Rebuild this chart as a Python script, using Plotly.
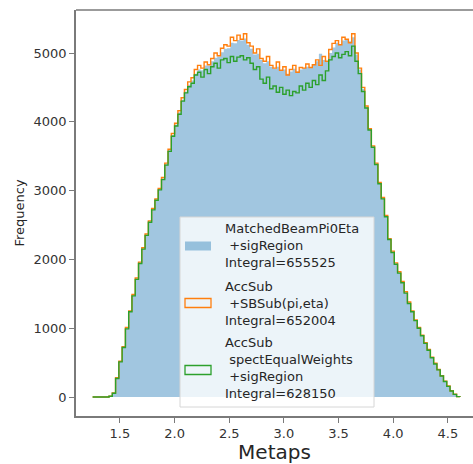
import plotly.graph_objects as go

# ---- data ----
bin_start = 1.25
bin_width = 0.03

blue_counts = [0, 0, 0, 0, 0, 10, 60, 275, 515, 725,
               1000, 1245, 1480, 1720, 1950, 2160, 2360, 2550, 2730, 2870,
               3020, 3180, 3390, 3590, 3810, 3960, 4140, 4320, 4440, 4540,
               4600, 4700, 4760, 4750, 4820, 4820, 4880, 4930, 4950, 5010,
               5060, 5070, 5150, 5140, 5190, 5180, 5210, 5120, 5060, 4980,
               4990, 4900, 4850, 4880, 4800, 4770, 4800, 4740, 4760, 4700,
               4730, 4770, 4730, 4760, 4780, 4800, 4790, 4830, 4880, 4990,
               4900, 4880, 5000, 5080, 5150, 5120, 5180, 5200, 5170, 5230,
               4980, 4760, 4480, 4220, 3890, 3640, 3390, 3110, 2890, 2630,
               2300, 2110, 1940, 1810, 1670, 1520, 1370, 1245, 1115, 1005,
               895, 785, 685, 575, 485, 398, 308, 228, 158, 89,
               39, 5]

orange_counts = [0, 0, 0, 0, 0, 10, 60, 280, 520, 730,
                 1010, 1250, 1490, 1730, 1960, 2170, 2370, 2560, 2740, 2880,
                 3030, 3190, 3400, 3600, 3830, 3980, 4160, 4350, 4470, 4580,
                 4640, 4760, 4820, 4780, 4870, 4830, 4920, 5000, 4960, 5070,
                 5120, 5100, 5230, 5180, 5260, 5200, 5280, 5150, 5100, 5000,
                 5060, 4920, 4880, 4950, 4820, 4780, 4870, 4750, 4800, 4680,
                 4760, 4820, 4720, 4790, 4780, 4840, 4790, 4830, 4900, 4820,
                 4950, 4880, 5050, 5140, 5180, 5120, 5230, 5200, 5150, 5280,
                 5000, 4780, 4500, 4230, 3900, 3650, 3400, 3120, 2900, 2640,
                 2300, 2120, 1950, 1820, 1680, 1530, 1380, 1250, 1120, 1010,
                 900, 790, 690, 580, 490, 400, 310, 230, 160, 90,
                 40, 5]

green_counts = [0, 0, 0, 0, 0, 10, 55, 270, 510, 720,
                990, 1240, 1470, 1710, 1940, 2150, 2350, 2540, 2720, 2860,
                3010, 3160, 3370, 3570, 3790, 3940, 4110, 4300, 4420, 4510,
                4560, 4680, 4720, 4650, 4760, 4700, 4800, 4850, 4780, 4900,
                4920, 4860, 4950, 4880, 4940, 4960, 4900, 4930, 4850, 4760,
                4800, 4620, 4560, 4650, 4480, 4520, 4430, 4500, 4400, 4460,
                4380, 4440, 4420, 4520, 4460, 4560, 4500, 4600, 4540, 4680,
                4600, 4740, 4900, 4950, 5000, 4930, 4980, 5020, 4960, 5100,
                4880, 4700, 4440, 4200, 3880, 3630, 3380, 3100, 2880, 2620,
                2290, 2100, 1930, 1800, 1660, 1510, 1360, 1240, 1110, 1000,
                890, 780, 680, 570, 480, 395, 305, 225, 155, 88,
                38, 5]

legend_labels = [
    "MatchedBeamPi0Eta<br>\u00a0+sigRegion<br>Integral=655525",
    "AccSub<br>\u00a0+SBSub(pi,eta)<br>Integral=652004",
    "AccSub<br>\u00a0spectEqualWeights<br>\u00a0+sigRegion<br>Integral=628150",
]

x_ticks = [1.5, 2.0, 2.5, 3.0, 3.5, 4.0, 4.5]
y_ticks = [0, 1000, 2000, 3000, 4000, 5000]

# ---- build ----
n = len(blue_counts)
edges = [round(bin_start + i * bin_width, 4) for i in range(n + 1)]


def step_xy(counts):
    xs = [edges[0]] + edges
    ys = [0] + list(counts) + [counts[-1]]
    xs = xs + [edges[-1]]
    ys = ys + [0]
    return xs, ys


fig = go.Figure()

bx, by = step_xy(blue_counts)
fig.add_trace(go.Scatter(x=bx, y=by, mode="lines", line=dict(width=0, shape="hv"),
                         fill="tozeroy", fillcolor="rgba(31,119,180,0.42)",
                         showlegend=False, hoverinfo="skip"))
ox, oy = step_xy(orange_counts)
fig.add_trace(go.Scatter(x=ox, y=oy, mode="lines",
                         line=dict(color="#ff7f0e", width=1.4, shape="hv"),
                         showlegend=False, hoverinfo="skip"))
gx, gy = step_xy(green_counts)
fig.add_trace(go.Scatter(x=gx, y=gy, mode="lines",
                         line=dict(color="#2ca02c", width=1.4, shape="hv"),
                         showlegend=False, hoverinfo="skip"))

# pixel -> paper helpers (plot area: x 76..473, y 10..416)
L, T, R, B = 76, 10, 473, 416


def px(xp):
    return (xp - L) / (R - L)


def py(yp):
    return (B - yp) / (B - T)


shapes = []
# top spine
shapes.append(dict(type="line", xref="paper", yref="paper", x0=0, x1=1, y0=1, y1=1,
                   line=dict(color="#7a7a7a", width=1.5)))
# legend box
shapes.append(dict(type="rect", xref="paper", yref="paper",
                   x0=px(180), x1=px(374), y0=py(407), y1=py(217),
                   fillcolor="rgba(255,255,255,0.8)", line=dict(color="#d6d6d6", width=1)))
# legend handles
handle_y = [246, 303, 370]
handle_styles = [
    dict(fillcolor="rgba(31,119,180,0.42)", line=dict(width=0)),
    dict(fillcolor="rgba(255,255,255,0)", line=dict(color="#ff7f0e", width=1.3)),
    dict(fillcolor="rgba(255,255,255,0)", line=dict(color="#2ca02c", width=1.3)),
]
for hy, st in zip(handle_y, handle_styles):
    shapes.append(dict(type="rect", xref="paper", yref="paper",
                       x0=px(185), x1=px(211), y0=py(hy + 4.5), y1=py(hy - 4.5), **st))

annotations = []
text_centers = [246, 303, 368]
for lab, cy in zip(legend_labels, text_centers):
    annotations.append(dict(xref="paper", yref="paper", x=px(223), y=py(cy),
                            xanchor="left", yanchor="middle", align="left",
                            text=lab, showarrow=False,
                            font=dict(family="DejaVu Sans", size=13, color="#262626")))

fig.update_layout(
    width=473, height=464,
    margin=dict(l=L, r=0, t=T, b=464 - B),
    paper_bgcolor="white", plot_bgcolor="white",
    font=dict(family="DejaVu Sans", size=13, color="#262626"),
    shapes=shapes, annotations=annotations,
    showlegend=False,
    xaxis=dict(range=[1.098, 4.730], tickvals=x_ticks, ticktext=[f"{v:.1f}" for v in x_ticks],
               showgrid=False, zeroline=False, showline=True, linecolor="#7a7a7a", linewidth=1.5,
               ticks="outside", ticklen=5, tickcolor="#7a7a7a", tickwidth=1,
               tickfont=dict(size=13, color="#333"),
               title=dict(text="Metaps", font=dict(size=20, color="#262626"), standoff=4)),
    yaxis=dict(range=[-276, 5625], tickvals=y_ticks, ticktext=[str(v) for v in y_ticks],
               showgrid=False, zeroline=False, showline=True, linecolor="#7a7a7a", linewidth=1.5,
               ticks="outside", ticklen=5, tickcolor="#7a7a7a", tickwidth=1,
               tickfont=dict(size=13, color="#333"),
               title=dict(text="Frequency", font=dict(size=13, color="#262626"), standoff=6)),
)

fig.write_html("out.html")
